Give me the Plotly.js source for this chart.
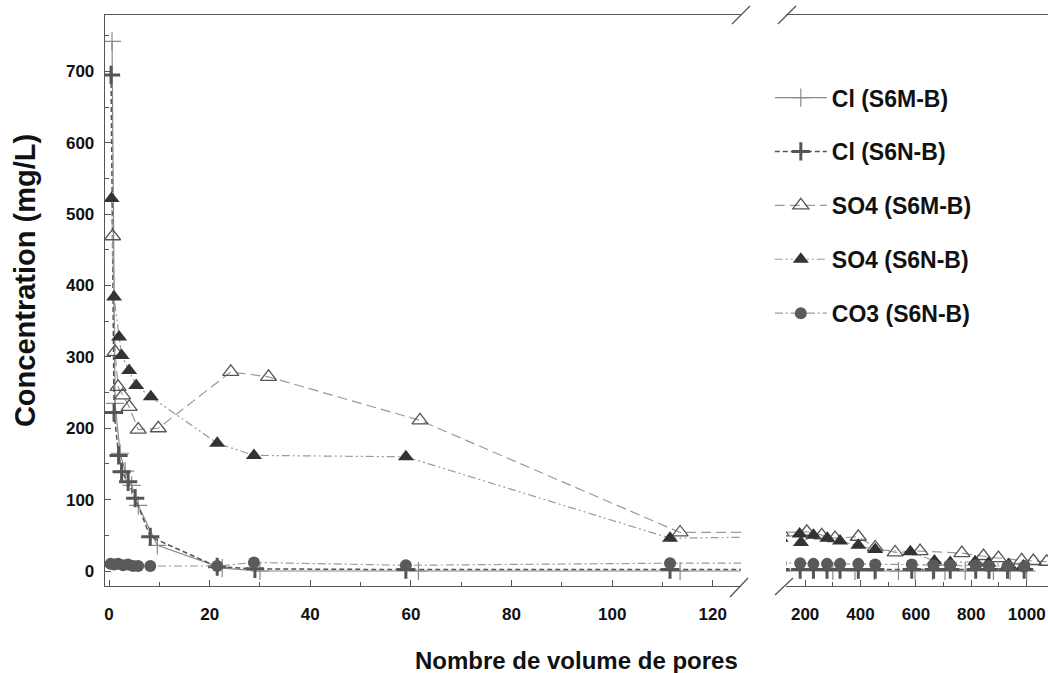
<!DOCTYPE html>
<html>
<head>
<meta charset="utf-8">
<script src="https://cdn.plot.ly/plotly-3.0.1.min.js"></script>
<style>
  html, body { margin: 0; padding: 0; background: #fff; }
  #chart { width: 1048px; height: 673px; }
</style>
</head>
<body>
<div id="chart"></div>
<script>
// Concentrations (mg/L) versus number of pore volumes, two columns S6M-B and S6N-B.
// Each series runs over the whole range; the left panel shows 0–125, the right one 130–1080.

const clM_x = [0.6, 1.2, 2.2, 3.2, 4.5, 5.8, 9.6, 22.5, 30, 61.5, 113.5,
               300, 380, 450, 537, 597, 660, 705, 778, 880, 940, 1000];
const clM_y = [742, 235, 165, 140, 120, 92, 36, 4, 0, 0, 0,
               0, 0, 0, 0, 0, 0, 0, 0, 0, 0, 0];

const clN_x = [0.4, 1.0, 1.9, 2.5, 3.8, 5.2, 8.2, 21.5, 29, 59, 111.5,
               182, 230, 279, 326, 392, 453, 585, 664, 724, 816, 864, 931, 991];
const clN_y = [695, 222, 162, 139, 125, 102, 48, 6, 3, 2, 2,
               2, 2, 2, 2, 2, 2, 2, 2, 2, 2, 2, 2, 2];

const so4M_x = [0.7, 1.2, 1.8, 2.7, 4.0, 5.8, 9.8, 24.2, 31.7, 61.8, 113.5,
                206, 260, 308, 392, 453, 525, 615, 766, 844, 898, 982, 1024, 1072];
const so4M_y = [469, 307, 258, 246, 230, 198, 200, 279, 272, 211, 54,
                55, 50, 46, 48, 33, 26, 28, 25, 21, 18, 15, 14, 13];

const so4N_x = [0.5, 1.0, 2.0, 2.5, 4.0, 5.4, 8.3, 21.5, 28.8, 59, 111.5,
                180, 185, 230, 280, 326, 392, 453, 580, 667, 724, 814, 862, 935, 989];
const so4N_y = [522, 384, 328, 302, 281, 260, 244, 179, 162, 160, 46,
                52, 40, 50, 46, 42, 36, 30, 27, 14, 12, 13, 11, 9, 7];

const co3N_x = [0.3, 1.0, 1.8, 2.8, 3.8, 4.8, 5.8, 8.2, 21.5, 28.8, 59, 111.5,
                182, 230, 279, 326, 392, 453, 585, 664, 724, 816, 864, 931, 991];
const co3N_y = [10, 9, 10, 8, 9, 7, 7, 7, 7, 12, 8, 11,
                11, 10, 10, 10, 10, 9, 9, 8, 8, 8, 7, 7, 6];

const seriesNames = ['Cl (S6M-B)', 'Cl (S6N-B)', 'SO4 (S6M-B)', 'SO4 (S6N-B)', 'CO3 (S6N-B)'];

const FONT = 'Liberation Sans, Arial, Helvetica, sans-serif';

const styles = [
  { x: clM_x, y: clM_y,
    line: { color: '#8a8a8a', width: 1.2, dash: 'solid' },
    marker: { symbol: 'cross-thin-open', size: 13, line: { color: '#6a6a6a', width: 1.2 } } },
  { x: clN_x, y: clN_y,
    line: { color: '#555', width: 1.5, dash: '5px,3px' },
    marker: { symbol: 'cross-thin-open', size: 13, line: { color: '#444', width: 3 } } },
  { x: so4M_x, y: so4M_y,
    line: { color: '#9a9a9a', width: 1.2, dash: '10px,5px' },
    marker: { symbol: 'triangle-up-open', size: 14, color: '#555', line: { color: '#555', width: 1.3 } } },
  { x: so4N_x, y: so4N_y,
    line: { color: '#9a9a9a', width: 1.2, dash: '8px,3px,2px,3px,2px,3px' },
    marker: { symbol: 'triangle-up', size: 14, color: '#333', line: { width: 0 } } },
  { x: co3N_x, y: co3N_y,
    line: { color: '#9a9a9a', width: 1.2, dash: '8px,3px,2px,3px' },
    marker: { symbol: 'circle', size: 12, color: '#5a5a5a', line: { width: 0 } } }
];

const traces = [];
styles.forEach((s, i) => {
  ['x', 'x2'].forEach(ax => {
    traces.push({
      type: 'scatter', mode: 'lines+markers',
      x: s.x, y: s.y, xaxis: ax, yaxis: 'y',
      name: seriesNames[i], legendgroup: 'g' + i,
      showlegend: ax === 'x',
      line: s.line, marker: s.marker, cliponaxis: true
    });
  });
});

const frame = '#555';
const tickFont = { family: FONT, size: 17, color: '#111', weight: 'bold' };

// axis-break slashes on the top and bottom frame lines
function slash(x0, y0, x1, y1) {
  return { type: 'line', xref: 'paper', yref: 'paper', x0, y0, x1, y1,
           line: { color: frame, width: 1.3 } };
}

const layout = {
  width: 1048, height: 673,
  margin: { l: 105, r: 0, t: 15, b: 87 },
  paper_bgcolor: '#fff', plot_bgcolor: '#fff',
  font: { family: FONT, color: '#111' },
  showlegend: true,
  legend: {
    x: 0.705, y: 0.893, xanchor: 'left', yanchor: 'top',
    traceorder: 'grouped', tracegroupgap: 21,
    font: { family: FONT, size: 23, color: '#111', weight: 'bold' },
    bgcolor: 'rgba(0,0,0,0)', itemwidth: 52
  },
  xaxis: {
    domain: [0, 0.6744], range: [-0.8, 125.6], anchor: 'y',
    showgrid: false, zeroline: false,
    showline: true, mirror: true, linecolor: frame, linewidth: 1.3,
    ticks: 'inside', ticklen: 6, tickcolor: frame, tickwidth: 1,
    tick0: 0, dtick: 20, ticklabelstandoff: 12,
    minor: { dtick: 10, ticks: 'inside', ticklen: 4, tickcolor: frame },
    tickfont: tickFont
  },
  xaxis2: {
    domain: [0.7222, 1], range: [131, 1077], anchor: 'y',
    showgrid: false, zeroline: false,
    showline: true, mirror: true, linecolor: frame, linewidth: 1.3,
    ticks: 'inside', ticklen: 6, tickcolor: frame, tickwidth: 1,
    tick0: 0, dtick: 200, ticklabelstandoff: 12,
    minor: { dtick: 100, ticks: 'inside', ticklen: 4, tickcolor: frame },
    tickfont: tickFont
  },
  yaxis: {
    domain: [0, 1], range: [-21, 779], anchor: 'x',
    showgrid: false, zeroline: false,
    showline: true, linecolor: frame, linewidth: 1.3,
    ticks: 'inside', ticklen: 6, tickcolor: frame, tickwidth: 1,
    tick0: 0, dtick: 100, ticklabelstandoff: 6,
    minor: { dtick: 50, ticks: 'inside', ticklen: 4, tickcolor: frame },
    tickfont: tickFont
  },
  annotations: [
    {
      text: 'Nombre de volume de pores', xref: 'paper', yref: 'paper',
      x: 0.5, y: -0.1296, xanchor: 'center', yanchor: 'middle', showarrow: false,
      font: { family: FONT, size: 24, color: '#111', weight: 'bold' }
    },
    {
      text: 'Concentration (mg/L)', xref: 'paper', yref: 'paper', textangle: -90,
      x: -0.0848, y: 0.534, xanchor: 'center', yanchor: 'middle', showarrow: false,
      font: { family: FONT, size: 29, color: '#111', weight: 'bold' }
    }
  ],
  shapes: [
    slash(0.6628, -0.0193, 0.6819, 0.0140),
    slash(0.7105, -0.0158, 0.7296, 0.0140),
    slash(0.6649, 0.9842, 0.6840, 1.0158),
    slash(0.7137, 0.9842, 0.7327, 1.0158)
  ]
};

Plotly.newPlot('chart', traces, layout, { staticPlot: true, displayModeBar: false });
</script>
</body>
</html>
